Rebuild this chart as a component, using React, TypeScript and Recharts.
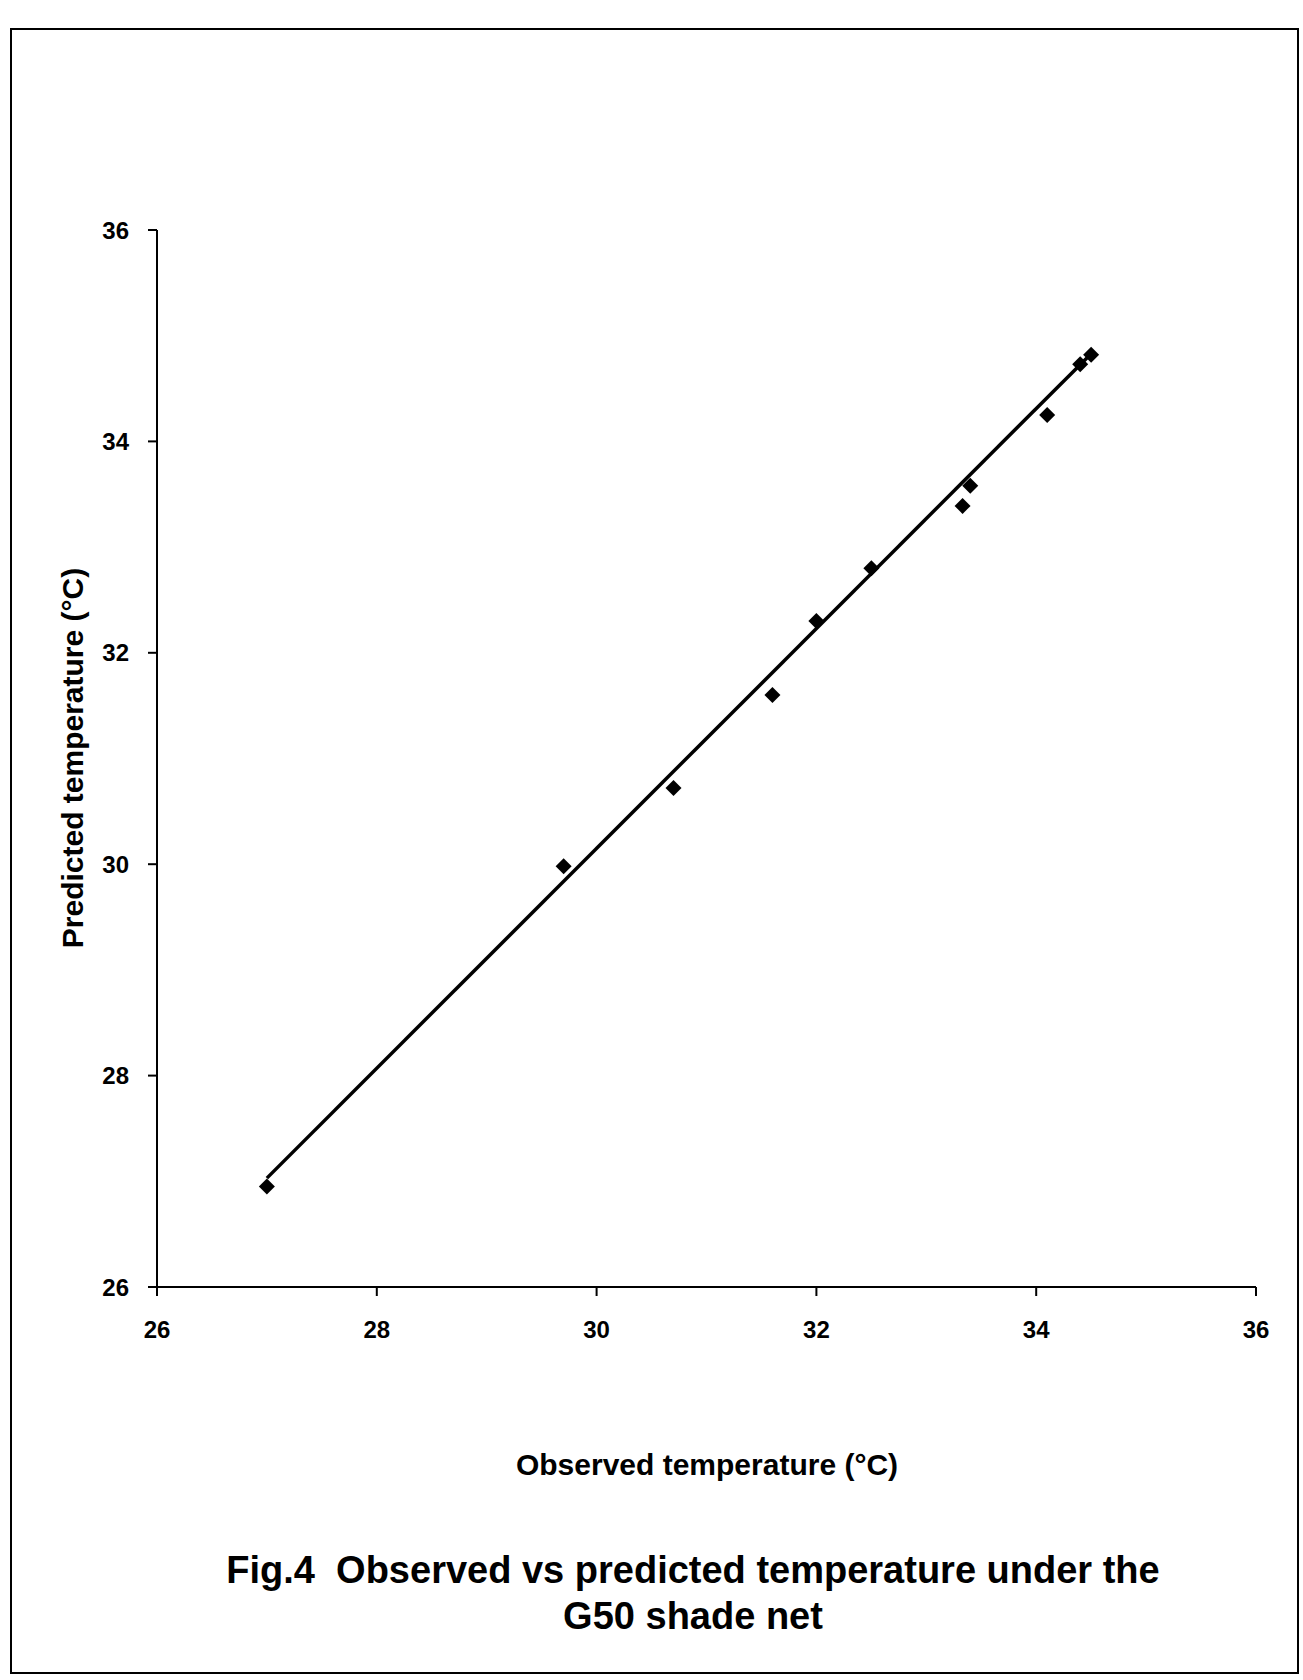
import React from 'react';
import { ScatterChart, Scatter, XAxis, YAxis } from 'recharts';

// observed vs predicted temperature (°C)
const observed = [27.0, 29.7, 30.7, 31.6, 32.0, 32.5, 33.33, 33.4, 34.1, 34.4, 34.5];
const predicted = [26.95, 29.98, 30.72, 31.6, 32.3, 32.8, 33.39, 33.58, 34.25, 34.73, 34.82];

// fitted line end points
const fitX = [27.0, 34.5];
const fitY = [27.03, 34.83];

const axisTicks = [26, 28, 30, 32, 34, 36];

const points = observed.map((x, i) => ({ x, y: predicted[i] }));
const fitLine = fitX.map((x, i) => ({ x, y: fitY[i] }));

const font = '"Liberation Sans", Arial, sans-serif';

const Diamond = (props: any) => {
  const { cx, cy } = props;
  const r = 8;
  return (
    <polygon
      points={`${cx},${cy - r} ${cx + r},${cy} ${cx},${cy + r} ${cx - r},${cy}`}
      fill="#000"
    />
  );
};

const NoDot = () => <g />;

const tickStyle = { fontSize: 24, fontWeight: 'bold', fill: '#000', fontFamily: font };

export default function App() {
  return (
    <div style={{ position: 'absolute', left: 0, top: 0, width: 1303, height: 1680, background: '#fff', fontFamily: font }}>
      <div
        style={{
          position: 'absolute',
          left: 10,
          top: 28,
          width: 1289,
          height: 1646,
          border: '2px solid #000',
          boxSizing: 'border-box',
        }}
      />
      <div style={{ position: 'absolute', left: 0, top: 0 }}>
        <ScatterChart width={1303} height={1680} margin={{ top: 230, right: 47, bottom: 333, left: 97 }}>
          <XAxis
            type="number"
            dataKey="x"
            domain={[26, 36]}
            ticks={axisTicks}
            allowDataOverflow
            height={60}
            tick={tickStyle}
            tickSize={9}
            tickMargin={25}
            stroke="#000"
            strokeWidth={2}
            tickLine={{ stroke: '#000', strokeWidth: 2 }}
          />
          <YAxis
            type="number"
            dataKey="y"
            domain={[26, 36]}
            ticks={axisTicks}
            allowDataOverflow
            width={60}
            tick={tickStyle}
            tickSize={9}
            tickMargin={19}
            stroke="#000"
            strokeWidth={2}
            tickLine={{ stroke: '#000', strokeWidth: 2 }}
          />
          <Scatter
            data={fitLine}
            line={{ stroke: '#000', strokeWidth: 3.5 }}
            lineType="joint"
            shape={NoDot}
            isAnimationActive={false}
          />
          <Scatter data={points} shape={Diamond} isAnimationActive={false} />
        </ScatterChart>
      </div>
      <div
        style={{
          position: 'absolute',
          left: 73,
          top: 758,
          transform: 'translate(-50%, -50%) rotate(-90deg)',
          whiteSpace: 'nowrap',
          fontSize: 30,
          fontWeight: 'bold',
          color: '#000',
        }}
      >
        Predicted temperature (°C)
      </div>
      <div
        style={{
          position: 'absolute',
          left: 707,
          top: 1465,
          transform: 'translate(-50%, -50%)',
          whiteSpace: 'nowrap',
          fontSize: 30,
          fontWeight: 'bold',
          color: '#000',
        }}
      >
        Observed temperature (°C)
      </div>
      <div
        style={{
          position: 'absolute',
          left: 693,
          top: 1593,
          transform: 'translate(-50%, -50%)',
          whiteSpace: 'pre',
          textAlign: 'center',
          fontSize: 38,
          lineHeight: '46px',
          fontWeight: 'bold',
          color: '#000',
        }}
      >
        {'Fig.4  Observed vs predicted temperature under the\nG50 shade net'}
      </div>
    </div>
  );
}
